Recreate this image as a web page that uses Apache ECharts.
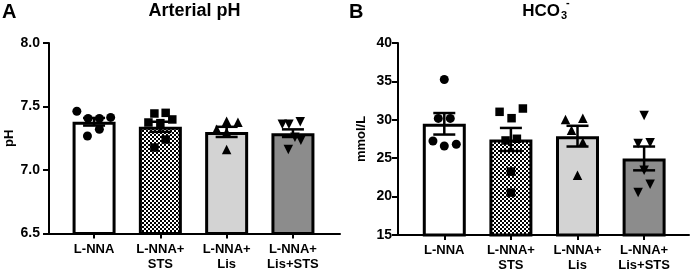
<!DOCTYPE html>
<html>
<head>
<meta charset="utf-8">
<script src="https://cdn.jsdelivr.net/npm/echarts@6/dist/echarts.min.js"></script>
<style>
  html, body { margin: 0; padding: 0; background: #fff; }
  #main { width: 692px; height: 273px; }
</style>
</head>
<body>
<div id="main"></div>
<script>
// groups on the x axis
var categories = ['L-NNA', 'L-NNA+\nSTS', 'L-NNA+\nLis', 'L-NNA+\nLis+STS'];

// panel A: arterial pH
var phTicks = [6.5, 7.0, 7.5, 8.0];
var phMeans = [7.38, 7.34, 7.30, 7.29];
var phSem = [0.03, 0.04, 0.04, 0.03];
var phPoints = [
  [7.463, 7.406, 7.406, 7.414, 7.321, 7.268],
  [7.445, 7.450, 7.374, 7.369, 7.398, 7.240, 7.177],
  [7.384, 7.376, 7.321, 7.298, 7.161],
  [7.360, 7.360, 7.379, 7.234, 7.161, 7.258]
];
var phJitter = [
  [-0.26, -0.09, 0.08, 0.25, 0.08, -0.10],
  [-0.09, 0.08, -0.18, 0.0, 0.18, 0.08, -0.09],
  [0.0, 0.17, -0.15, 0.0, 0.0],
  [-0.16, -0.06, 0.11, 0.12, -0.07, 0.03]
];

// panel B: HCO3-
var hcoTicks = [15, 20, 25, 30, 35, 40];
var hcoMeans = [29.48, 27.44, 27.87, 24.97];
var hcoSem = [1.4, 1.5, 1.35, 1.55];
var hcoPoints = [
  [35.24, 30.18, 30.18, 27.24, 26.59, 26.81],
  [31.04, 31.47, 30.21, 27.31, 27.53, 23.25, 20.52],
  [30.04, 30.21, 28.65, 27.09, 22.77],
  [30.56, 26.92, 27.01, 23.42, 21.60, 20.52]
];
var hcoJitter = [
  [0.0, -0.09, 0.09, -0.17, 0.0, 0.18],
  [-0.17, 0.18, 0.01, -0.08, 0.09, 0.0, 0.0],
  [-0.18, 0.08, -0.09, 0.08, 0.0],
  [0.0, -0.09, 0.09, 0.0, 0.09, -0.09]
];

var FONT = 'Liberation Sans, Arial, sans-serif';

function checker() {
  var c = document.createElement('canvas');
  c.width = 4; c.height = 4;
  var g = c.getContext('2d');
  g.fillStyle = '#fff'; g.fillRect(0, 0, 4, 4);
  g.fillStyle = '#000'; g.fillRect(0, 0, 2, 2); g.fillRect(2, 2, 2, 2);
  return c;
}

var fills = ['#ffffff', { image: checker(), repeat: 'repeat' }, '#d3d3d3', '#8c8c8c'];
var symbols = [
  { symbol: 'circle', size: 9, rotate: 0 },
  { symbol: 'rect', size: 8.5, rotate: 0 },
  { symbol: 'triangle', size: 9.5, rotate: 0 },
  { symbol: 'triangle', size: 9.5, rotate: 180 }
];

function xAxisFor(idx, min, max) {
  return {
    type: 'value', gridIndex: idx, min: min, max: max,
    axisLine: { show: true, onZero: false, lineStyle: { color: '#000', width: 2 } },
    axisTick: { show: true, customValues: [0, 1, 2, 3], length: 5, lineStyle: { color: '#000', width: 2 } },
    axisLabel: {
      customValues: [0, 1, 2, 3],
      formatter: function (v) { return categories[Math.round(v)]; },
      color: '#000', fontWeight: 'bold', fontSize: 13, lineHeight: 15,
      fontFamily: FONT, margin: 8
    },
    splitLine: { show: false }
  };
}

function yAxisFor(idx, ticks, name, gap, digits, margin) {
  return {
    type: 'value', gridIndex: idx,
    min: ticks[0], max: ticks[ticks.length - 1], interval: ticks[1] - ticks[0],
    name: name, nameLocation: 'middle', nameGap: gap,
    nameTextStyle: { color: '#000', fontWeight: 'bold', fontSize: 13, fontFamily: FONT },
    axisLine: { show: true, onZero: false, lineStyle: { color: '#000', width: 2 } },
    axisTick: { show: true, length: 6, lineStyle: { color: '#000', width: 2 } },
    axisLabel: {
      formatter: function (v) { return v.toFixed(digits); },
      color: '#000', fontWeight: 'bold', fontSize: 14, fontFamily: FONT, margin: margin
    },
    splitLine: { show: false }
  };
}

function panelSeries(idx, means, sem, points, jitter) {
  var out = [];
  out.push({
    type: 'bar', xAxisIndex: idx, yAxisIndex: idx, barWidth: 43, z: 2,
    itemStyle: { borderColor: '#000', borderWidth: 3 },
    data: means.map(function (m, i) {
      return { value: [i, m], itemStyle: { color: fills[i] } };
    })
  });
  out.push({
    type: 'custom', xAxisIndex: idx, yAxisIndex: idx, z: 4,
    data: means.map(function (m, i) { return [i, m - sem[i], m + sem[i]]; }),
    encode: { x: 0, y: [1, 2] },
    renderItem: function (params, api) {
      var lo = api.coord([api.value(0), api.value(1)]);
      var hi = api.coord([api.value(0), api.value(2)]);
      var w = 11;
      var st = { stroke: '#000', lineWidth: 2.5 };
      return {
        type: 'group',
        children: [
          { type: 'line', shape: { x1: lo[0], y1: lo[1], x2: hi[0], y2: hi[1] }, style: st },
          { type: 'line', shape: { x1: lo[0] - w, y1: lo[1], x2: lo[0] + w, y2: lo[1] }, style: st },
          { type: 'line', shape: { x1: hi[0] - w, y1: hi[1], x2: hi[0] + w, y2: hi[1] }, style: st }
        ]
      };
    }
  });
  points.forEach(function (vals, i) {
    out.push({
      type: 'scatter', xAxisIndex: idx, yAxisIndex: idx, z: 5,
      symbol: symbols[i].symbol, symbolSize: symbols[i].size, symbolRotate: symbols[i].rotate,
      itemStyle: { color: '#000', opacity: 1 },
      data: vals.map(function (v, k) { return [i + jitter[i][k], v]; })
    });
  });
  return out;
}

var chart = echarts.init(document.getElementById('main'), null, { renderer: 'canvas' });

var option = {
  animation: false,
  backgroundColor: '#fff',
  grid: [
    { left: 49, right: 352, top: 43, bottom: 39.5 },
    { left: 398, right: 3, top: 43, bottom: 37 }
  ],
  xAxis: [xAxisFor(0, -0.68, 3.71), xAxisFor(1, -0.695, 3.674)],
  yAxis: [
    yAxisFor(0, phTicks, 'pH', 33, 1, 9),
    yAxisFor(1, hcoTicks, 'mmol/L', 30, 0, 6)
  ],
  series: panelSeries(0, phMeans, phSem, phPoints, phJitter)
    .concat(panelSeries(1, hcoMeans, hcoSem, hcoPoints, hcoJitter)),
  graphic: [
    { type: 'text', x: 2, y: 12, style: { text: 'A', font: 'bold 20px ' + FONT, fill: '#000', verticalAlign: 'middle' } },
    { type: 'text', x: 349, y: 12, style: { text: 'B', font: 'bold 20px ' + FONT, fill: '#000', verticalAlign: 'middle' } },
    { type: 'text', x: 194.5, y: 11, style: { text: 'Arterial pH', font: 'bold 18px ' + FONT, fill: '#000', align: 'center', verticalAlign: 'middle' } },
    { type: 'text', x: 560, y: 11, style: { text: 'HCO', font: 'bold 17px ' + FONT, fill: '#000', align: 'right', verticalAlign: 'middle' } },
    { type: 'text', x: 561, y: 16, style: { text: '3', font: 'bold 11px ' + FONT, fill: '#000', align: 'left', verticalAlign: 'middle' } },
    { type: 'text', x: 566, y: 3, style: { text: '-', font: 'bold 11px ' + FONT, fill: '#000', align: 'left', verticalAlign: 'middle' } }
  ]
};

chart.setOption(option);
</script>
</body>
</html>
